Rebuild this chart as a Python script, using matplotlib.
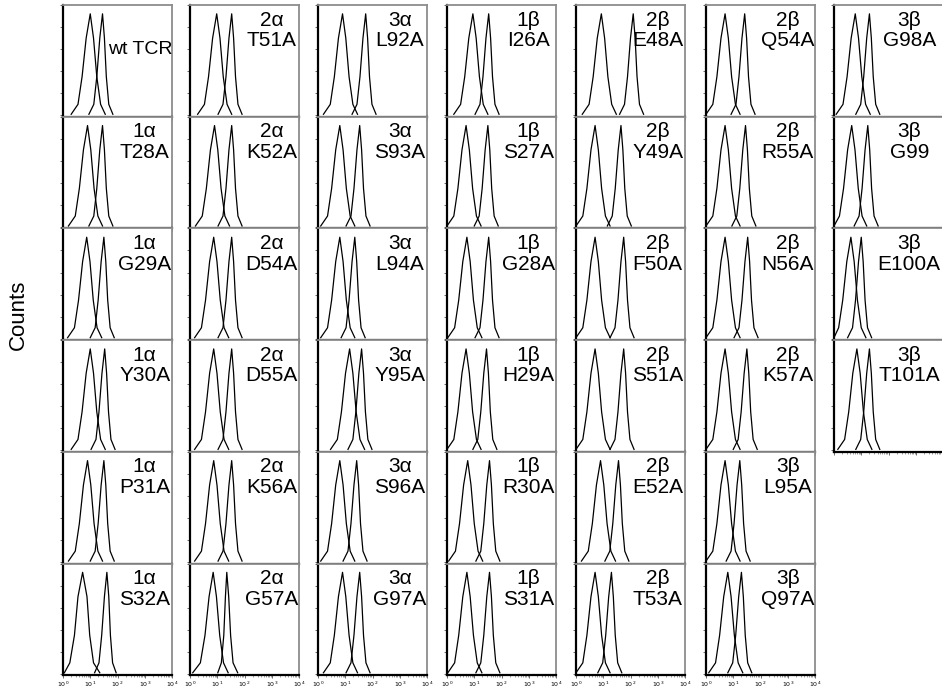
import matplotlib
matplotlib.use('Agg')
import matplotlib.pyplot as plt
import numpy as np

plt.rcParams['font.family'] = ['Liberation Sans', 'DejaVu Sans']

# histogram height levels shared by every curve (fraction of panel height)
hist_y = [0.01, 0.1, 0.35, 0.7, 0.92, 0.7, 0.35, 0.1, 0.01]

# panel labels, one list per column (top to bottom)
c1_lab = ['wt TCR', '1α\nT28A', '1α\nG29A', '1α\nY30A', '1α\nP31A', '1α\nS32A']
c2_lab = ['2α\nT51A', '2α\nK52A', '2α\nD54A', '2α\nD55A', '2α\nK56A', '2α\nG57A']
c3_lab = ['3α\nL92A', '3α\nS93A', '3α\nL94A', '3α\nY95A', '3α\nS96A', '3α\nG97A']
c4_lab = ['1β\nI26A', '1β\nS27A', '1β\nG28A', '1β\nH29A', '1β\nR30A', '1β\nS31A']
c5_lab = ['2β\nE48A', '2β\nY49A', '2β\nF50A', '2β\nS51A', '2β\nE52A', '2β\nT53A']
c6_lab = ['2β\nQ54A', '2β\nR55A', '2β\nN56A', '2β\nK57A', '3β\nL95A', '3β\nQ97A']
c7_lab = ['3β\nG98A', '3β\nG99', '3β\nE100A', '3β\nT101A']

# log10 fluorescence positions of each curve at the hist_y levels
c1_neg = [[0.30, 0.55, 0.70, 0.85, 1.00, 1.12, 1.24, 1.38, 1.55],
          [0.20, 0.45, 0.60, 0.75, 0.90, 1.02, 1.14, 1.28, 1.45],
          [0.17, 0.42, 0.57, 0.72, 0.87, 0.99, 1.11, 1.25, 1.42],
          [0.30, 0.55, 0.70, 0.85, 1.00, 1.12, 1.24, 1.38, 1.55],
          [0.20, 0.45, 0.60, 0.75, 0.90, 1.02, 1.14, 1.28, 1.45],
          [0.05, 0.25, 0.42, 0.55, 0.72, 0.88, 0.98, 1.12, 1.35]]
c1_pos = [[0.95, 1.13, 1.24, 1.35, 1.45, 1.52, 1.59, 1.68, 1.83],
          [0.95, 1.13, 1.24, 1.35, 1.45, 1.52, 1.59, 1.68, 1.83],
          [1.00, 1.18, 1.29, 1.40, 1.50, 1.57, 1.64, 1.73, 1.88],
          [1.03, 1.21, 1.32, 1.43, 1.53, 1.60, 1.67, 1.76, 1.91],
          [1.00, 1.18, 1.29, 1.40, 1.50, 1.57, 1.64, 1.73, 1.88],
          [1.16, 1.32, 1.42, 1.52, 1.61, 1.68, 1.74, 1.82, 1.95]]

c2_neg = [[0.28, 0.53, 0.68, 0.83, 0.98, 1.10, 1.22, 1.36, 1.53],
          [0.20, 0.45, 0.60, 0.75, 0.90, 1.02, 1.14, 1.28, 1.45],
          [0.17, 0.42, 0.57, 0.72, 0.87, 0.99, 1.11, 1.25, 1.42],
          [0.17, 0.42, 0.57, 0.72, 0.87, 0.99, 1.11, 1.25, 1.42],
          [0.17, 0.42, 0.57, 0.72, 0.87, 0.99, 1.11, 1.25, 1.42],
          [0.10, 0.38, 0.55, 0.70, 0.85, 0.97, 1.09, 1.23, 1.40]]
c2_pos = [[1.03, 1.21, 1.32, 1.43, 1.53, 1.60, 1.67, 1.76, 1.91],
          [1.03, 1.21, 1.32, 1.43, 1.53, 1.60, 1.67, 1.76, 1.91],
          [1.03, 1.21, 1.32, 1.43, 1.53, 1.60, 1.67, 1.76, 1.91],
          [1.03, 1.21, 1.32, 1.43, 1.53, 1.60, 1.67, 1.76, 1.91],
          [1.03, 1.21, 1.32, 1.43, 1.53, 1.60, 1.67, 1.76, 1.91],
          [1.02, 1.15, 1.24, 1.30, 1.35, 1.42, 1.49, 1.58, 1.75]]

c3_neg = [[0.20, 0.45, 0.60, 0.75, 0.90, 1.02, 1.14, 1.28, 1.45],
          [0.10, 0.35, 0.50, 0.65, 0.80, 0.92, 1.04, 1.18, 1.35],
          [0.10, 0.35, 0.50, 0.65, 0.80, 0.92, 1.04, 1.18, 1.35],
          [0.46, 0.71, 0.86, 1.01, 1.16, 1.28, 1.40, 1.54, 1.71],
          [0.10, 0.35, 0.50, 0.65, 0.80, 0.92, 1.04, 1.18, 1.35],
          [0.20, 0.45, 0.60, 0.75, 0.90, 1.02, 1.14, 1.28, 1.45]]
c3_pos = [[1.25, 1.43, 1.54, 1.65, 1.75, 1.82, 1.89, 1.98, 2.13],
          [1.03, 1.21, 1.32, 1.43, 1.53, 1.60, 1.67, 1.76, 1.91],
          [0.85, 1.03, 1.14, 1.25, 1.35, 1.42, 1.49, 1.58, 1.73],
          [1.10, 1.28, 1.39, 1.50, 1.60, 1.67, 1.74, 1.83, 1.98],
          [0.92, 1.10, 1.21, 1.32, 1.42, 1.49, 1.56, 1.65, 1.80],
          [1.03, 1.21, 1.32, 1.43, 1.53, 1.60, 1.67, 1.76, 1.91]]

c4_neg = [[0.25, 0.50, 0.65, 0.80, 0.95, 1.07, 1.19, 1.33, 1.50],
          [0.00, 0.25, 0.40, 0.55, 0.70, 0.82, 0.94, 1.08, 1.25],
          [0.03, 0.28, 0.43, 0.58, 0.73, 0.85, 0.97, 1.11, 1.28],
          [0.00, 0.25, 0.40, 0.55, 0.70, 0.82, 0.94, 1.08, 1.25],
          [0.06, 0.31, 0.46, 0.61, 0.76, 0.88, 1.00, 1.14, 1.31],
          [0.03, 0.28, 0.43, 0.58, 0.73, 0.85, 0.97, 1.11, 1.28]]
c4_pos = [[1.03, 1.21, 1.32, 1.43, 1.53, 1.60, 1.67, 1.76, 1.91],
          [1.00, 1.18, 1.29, 1.40, 1.50, 1.57, 1.64, 1.73, 1.88],
          [1.03, 1.21, 1.32, 1.43, 1.53, 1.60, 1.67, 1.76, 1.91],
          [0.95, 1.13, 1.24, 1.35, 1.45, 1.52, 1.59, 1.68, 1.83],
          [1.06, 1.24, 1.35, 1.46, 1.56, 1.63, 1.70, 1.79, 1.94],
          [1.06, 1.24, 1.35, 1.46, 1.56, 1.63, 1.70, 1.79, 1.94]]

c5_neg = [[0.23, 0.48, 0.63, 0.78, 0.93, 1.05, 1.17, 1.31, 1.48],
          [0.00, 0.25, 0.40, 0.55, 0.70, 0.82, 0.94, 1.08, 1.25],
          [0.00, 0.25, 0.40, 0.55, 0.70, 0.82, 0.94, 1.08, 1.25],
          [0.00, 0.25, 0.40, 0.55, 0.70, 0.82, 0.94, 1.08, 1.25],
          [0.20, 0.45, 0.60, 0.75, 0.90, 1.02, 1.14, 1.28, 1.45],
          [0.00, 0.25, 0.40, 0.55, 0.70, 0.82, 0.94, 1.08, 1.25]]
c5_pos = [[1.60, 1.78, 1.89, 2.00, 2.10, 2.17, 2.24, 2.33, 2.48],
          [1.15, 1.33, 1.44, 1.55, 1.65, 1.72, 1.79, 1.88, 2.03],
          [1.25, 1.43, 1.54, 1.65, 1.75, 1.82, 1.89, 1.98, 2.13],
          [1.25, 1.43, 1.54, 1.65, 1.75, 1.82, 1.89, 1.98, 2.13],
          [1.06, 1.24, 1.35, 1.46, 1.56, 1.63, 1.70, 1.79, 1.94],
          [0.80, 0.98, 1.09, 1.20, 1.30, 1.37, 1.44, 1.53, 1.68]]

c6_neg = [[0.00, 0.25, 0.40, 0.55, 0.70, 0.82, 0.94, 1.08, 1.25],
          [0.00, 0.25, 0.40, 0.55, 0.70, 0.82, 0.94, 1.08, 1.25],
          [0.00, 0.25, 0.40, 0.55, 0.70, 0.82, 0.94, 1.08, 1.25],
          [0.00, 0.25, 0.40, 0.55, 0.70, 0.82, 0.94, 1.08, 1.25],
          [0.00, 0.25, 0.40, 0.55, 0.70, 0.82, 0.94, 1.08, 1.25],
          [0.10, 0.35, 0.50, 0.65, 0.80, 0.92, 1.04, 1.18, 1.35]]
c6_pos = [[0.92, 1.10, 1.21, 1.32, 1.42, 1.49, 1.56, 1.65, 1.80],
          [0.95, 1.13, 1.24, 1.35, 1.45, 1.52, 1.59, 1.68, 1.83],
          [1.03, 1.21, 1.32, 1.43, 1.53, 1.60, 1.67, 1.76, 1.91],
          [1.00, 1.18, 1.29, 1.40, 1.50, 1.57, 1.64, 1.73, 1.88],
          [0.74, 0.92, 1.03, 1.14, 1.24, 1.31, 1.38, 1.47, 1.62],
          [0.80, 0.98, 1.09, 1.20, 1.30, 1.37, 1.44, 1.53, 1.68]]

c7_neg = [[0.08, 0.33, 0.48, 0.63, 0.78, 0.90, 1.02, 1.16, 1.33],
          [0.00, 0.20, 0.35, 0.50, 0.65, 0.77, 0.89, 1.03, 1.20],
          [0.00, 0.17, 0.32, 0.47, 0.62, 0.74, 0.86, 1.00, 1.17],
          [0.14, 0.39, 0.54, 0.69, 0.84, 0.96, 1.08, 1.22, 1.39]]
c7_pos = [[0.80, 0.98, 1.09, 1.20, 1.30, 1.37, 1.44, 1.53, 1.68],
          [0.74, 0.92, 1.03, 1.14, 1.24, 1.31, 1.38, 1.47, 1.62],
          [0.50, 0.68, 0.79, 0.90, 1.00, 1.07, 1.14, 1.23, 1.38],
          [0.80, 0.98, 1.09, 1.20, 1.30, 1.37, 1.44, 1.53, 1.68]]

decade_labels = ['$10^0$', '$10^1$', '$10^2$', '$10^3$', '$10^4$']

columns = [(c1_lab, c1_neg, c1_pos), (c2_lab, c2_neg, c2_pos),
           (c3_lab, c3_neg, c3_pos), (c4_lab, c4_neg, c4_pos),
           (c5_lab, c5_neg, c5_pos), (c6_lab, c6_neg, c6_pos),
           (c7_lab, c7_neg, c7_pos)]

W, H = 942, 691
fig = plt.figure(figsize=(W / 100, H / 100), dpi=100)

col_left = [63, 190, 318, 447, 576, 706, 834]
pw, ph, top0 = 109, 111.7, 5
minor = [k + np.log10(m) for k in range(4) for m in range(2, 10)]

for ci, (labs, negs, poss) in enumerate(columns):
    for ri, lab in enumerate(labs):
        top = top0 + ri * ph
        ax = fig.add_axes([col_left[ci] / W, 1 - (top + ph) / H, pw / W, ph / H])
        ax.plot(negs[ri], hist_y, color='black', lw=0.9)
        ax.plot(poss[ri], hist_y, color='black', lw=0.9)
        ax.set_xlim(0, 4)
        ax.set_ylim(-0.012, 1)
        for s in ['top', 'right']:
            ax.spines[s].set_color('#8c8c8c')
            ax.spines[s].set_linewidth(1.3)
        for s in ['left', 'bottom']:
            ax.spines[s].set_color('black')
            ax.spines[s].set_linewidth(1.6)
        ax.set_yticks(np.linspace(0, 1, 6))
        ax.set_yticklabels([])
        ax.tick_params(axis='y', length=2, width=0.6, color='#555555')
        ax.set_xticks(range(5))
        ax.set_xticks(minor, minor=True)
        ax.tick_params(axis='x', which='major', length=2.5, width=0.6,
                       color='#555555', pad=1)
        ax.tick_params(axis='x', which='minor', length=1.2, width=0.4,
                       color='#555555')
        if ri == 5:
            ax.set_xticklabels(decade_labels, fontsize=4.5)
        else:
            ax.set_xticklabels([])
        if lab == 'wt TCR':
            ax.text(0.71, 0.6, lab, transform=ax.transAxes, fontsize=14,
                    ha='center', va='center')
        else:
            xt = 0.69 if ci == 6 else 0.75
            ax.text(xt, 0.95, lab, transform=ax.transAxes, fontsize=15,
                    ha='center', va='top', multialignment='center',
                    linespacing=1.12)

fig.text(18 / W, 1 - 315 / H, 'Counts', rotation=90, fontsize=16,
         ha='center', va='center')

fig.savefig('out.png', dpi=100)
